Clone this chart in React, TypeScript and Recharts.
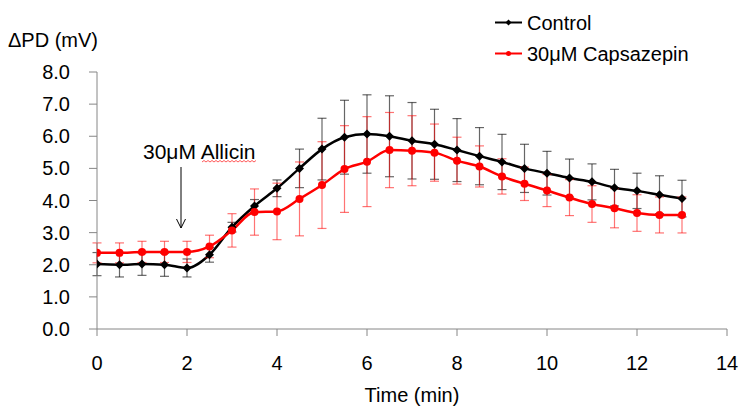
import React from "react"
import { LineChart, Line, XAxis, YAxis, ErrorBar, Legend } from "recharts"

const times = [0, 0.5, 1, 1.5, 2, 2.5, 3, 3.5, 4, 4.5, 5, 5.5, 6, 6.5, 7, 7.5, 8, 8.5, 9, 9.5, 10, 10.5, 11, 11.5, 12, 12.5, 13]

const controlValues = [2.02, 2.0, 2.02, 2.0, 1.9, 2.31, 3.17, 3.83, 4.38, 5.0, 5.6, 5.97, 6.07, 6.0, 5.86, 5.75, 5.57, 5.38, 5.2, 5.0, 4.85, 4.7, 4.58, 4.4, 4.3, 4.18, 4.06]
const controlErrors = [0.36, 0.38, 0.35, 0.36, 0.28, 0.23, 0.15, 0.2, 0.26, 0.6, 0.96, 1.15, 1.22, 1.26, 1.19, 1.09, 0.98, 0.89, 0.86, 0.75, 0.68, 0.59, 0.56, 0.57, 0.55, 0.59, 0.57]

const capsValues = [2.37, 2.37, 2.4, 2.4, 2.4, 2.57, 3.07, 3.64, 3.66, 4.05, 4.48, 4.98, 5.21, 5.57, 5.55, 5.49, 5.24, 5.06, 4.75, 4.52, 4.31, 4.09, 3.89, 3.76, 3.61, 3.55, 3.55]
const capsErrors = [0.31, 0.31, 0.33, 0.33, 0.33, 0.35, 0.52, 0.72, 0.88, 1.15, 1.35, 1.35, 1.4, 1.17, 1.09, 0.89, 0.73, 0.64, 0.55, 0.52, 0.5, 0.56, 0.57, 0.61, 0.57, 0.56, 0.56]

const xTicks = [0, 2, 4, 6, 8, 10, 12, 14]
const yTicks = [0, 1, 2, 3, 4, 5, 6, 7, 8]

const FONT = "'Liberation Sans', Arial, sans-serif"
const AXIS = "#868686"

const data = times.map((t, i) => ({
  t,
  control: controlValues[i],
  controlErr: controlErrors[i],
  caps: capsValues[i],
  capsErr: capsErrors[i],
}))

// black diamond marker
const Diamond = (props: any) => {
  const { cx, cy, index } = props
  if (cx == null || cy == null) return <g key={`d-${index}`} />
  const s = 4.5
  return <path key={`d-${index}`} d={`M${cx},${cy - s}L${cx + s},${cy}L${cx},${cy + s}L${cx - s},${cy}Z`} fill="#000" />
}

const Dot = (props: any) => {
  const { cx, cy, index } = props
  if (cx == null || cy == null) return <g key={`c-${index}`} />
  return <circle key={`c-${index}`} cx={cx} cy={cy} r={4} fill="#ff0000" />
}

function LegendBox() {
  return (
    <svg width={230} height={72} style={{ display: "block" }}>
      <line x1={5} x2={32} y1={22.5} y2={22.5} stroke="#000" strokeWidth={2} />
      <path d="M18.5,19.5L21.5,22.5L18.5,25.5L15.5,22.5Z" fill="#000" />
      <text x={37} y={29.5} fontSize={20} fontFamily={FONT} fill="#000">Control</text>
      <line x1={5} x2={32} y1={53.5} y2={53.5} stroke="#ff0000" strokeWidth={2} />
      <circle cx={18.5} cy={53.5} r={2.5} fill="#ff0000" />
      <text x={37} y={61} fontSize={20} fontFamily={FONT} fill="#000">30μM Capsazepin</text>
    </svg>
  )
}

export default function App() {
  return (
    <div style={{ position: "absolute", left: 0, top: 0, width: 739, height: 407, background: "#fff", fontFamily: FONT }}>
      <LineChart width={739} height={407} data={data} margin={{ top: 72, right: 12, bottom: 0, left: 0 }}>
        <XAxis
          dataKey="t"
          type="number"
          domain={[0, 14]}
          ticks={xTicks}
          allowDataOverflow
          stroke={AXIS}
          tickSize={7}
          tickMargin={20}
          height={78}
          tick={{ fill: "#000", fontSize: 20, fontFamily: FONT }}
          label={{ value: "Time (min)", position: "insideBottom", offset: 5, fill: "#000", fontSize: 20, fontFamily: FONT }}
        />
        <YAxis
          type="number"
          domain={[0, 8]}
          ticks={yTicks}
          stroke={AXIS}
          width={97}
          tickSize={8}
          tickMargin={19}
          tickFormatter={(v: number) => v.toFixed(1)}
          tick={{ fill: "#000", fontSize: 20, fontFamily: FONT }}
        />
        <Legend
          layout="horizontal"
          verticalAlign="middle"
          align="center"
          wrapperStyle={{ left: 490, top: 0, width: 230 }}
          content={() => <LegendBox />}
        />
        <Line
          type="monotone"
          dataKey="control"
          stroke="#000"
          strokeWidth={2.5}
          dot={Diamond}
          activeDot={false}
          isAnimationActive={false}
        >
          <ErrorBar dataKey="controlErr" width={4.5} stroke="#000" strokeOpacity={0.6} strokeWidth={1.2} direction="y" isAnimationActive={false} />
        </Line>
        <Line
          type="monotone"
          dataKey="caps"
          stroke="#ff0000"
          strokeWidth={2.5}
          dot={Dot}
          activeDot={false}
          isAnimationActive={false}
        >
          <ErrorBar dataKey="capsErr" width={4.5} stroke="#ff0000" strokeOpacity={0.55} strokeWidth={1.2} direction="y" isAnimationActive={false} />
        </Line>
      </LineChart>
      <svg width={739} height={407} style={{ position: "absolute", left: 0, top: 0, pointerEvents: "none" }}>
        <text x={8} y={47} fontSize={20} fontFamily={FONT} fill="#000">ΔPD (mV)</text>
        <text x={143} y={159} fontSize={21} fontFamily={FONT} fill="#000">30μM Allicin</text>
        <polyline
          points="202,162 204,160.5 206,162 208,160.5 210,162 212,160.5 214,162 216,160.5 218,162 220,160.5 222,162 224,160.5 226,162 228,160.5 230,162 232,160.5 234,162 236,160.5 238,162 240,160.5 242,162 244,160.5 246,162 248,160.5 250,162 252,160.5 254,162 256,160.5"
          fill="none"
          stroke="#ff5a5a"
          strokeWidth={1}
        />
        <line x1={181} x2={181} y1={167} y2={228} stroke="#000" strokeWidth={1} />
        <polyline points="176.5,219 181,228 185.5,219" fill="none" stroke="#000" strokeWidth={1} />
      </svg>
    </div>
  )
}
